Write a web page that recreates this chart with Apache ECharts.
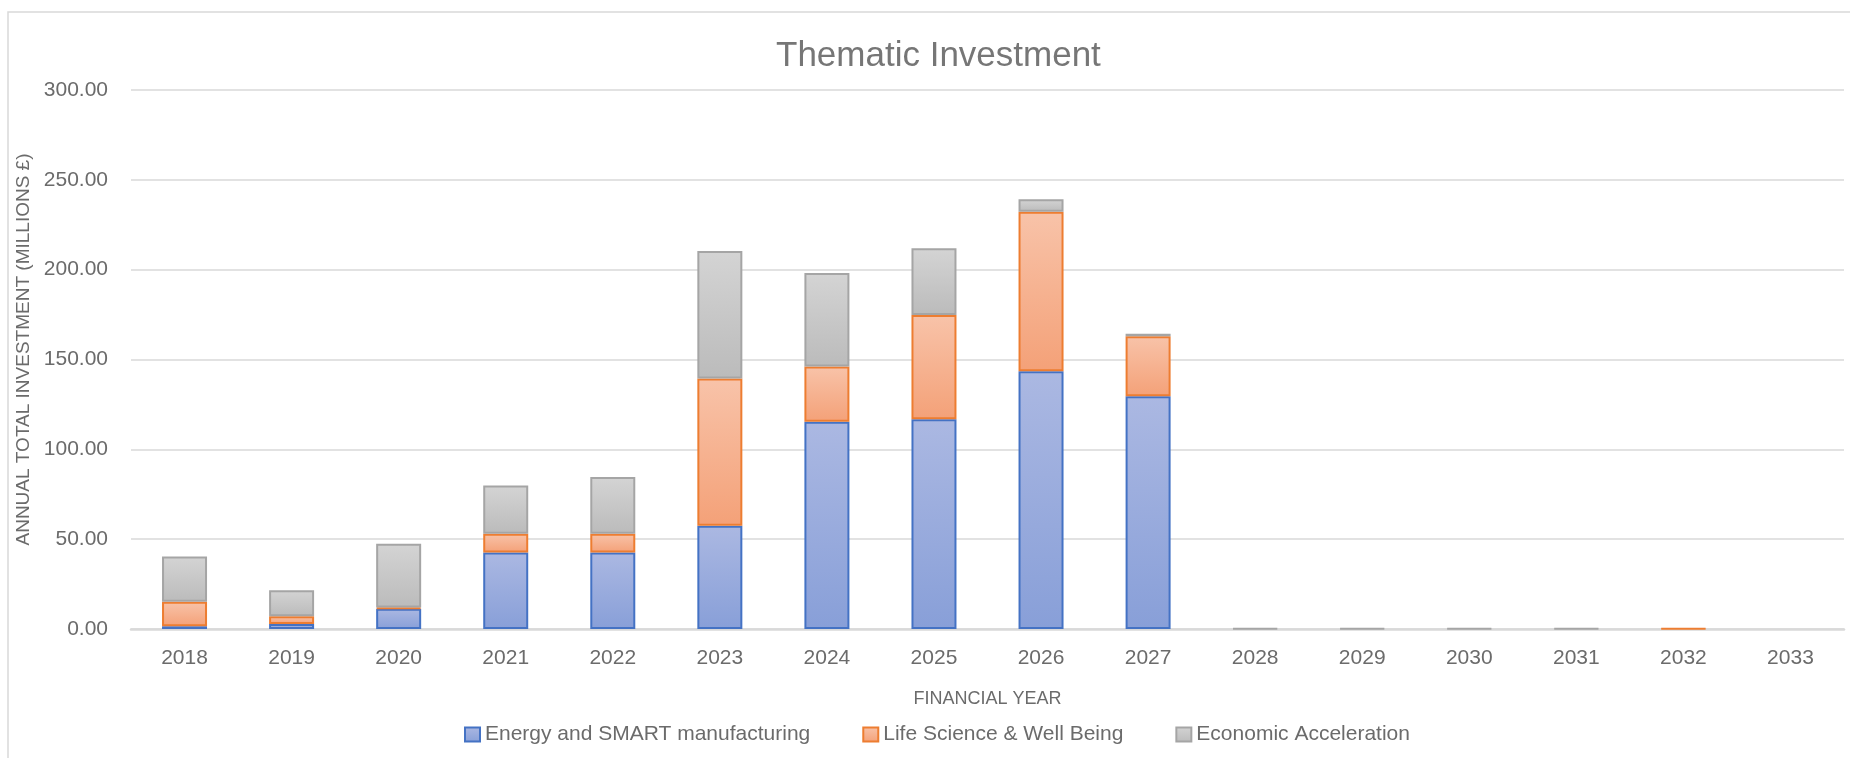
<!DOCTYPE html>
<html>
<head>
<meta charset="utf-8">
<title>Thematic Investment</title>
<script src="https://cdn.jsdelivr.net/npm/echarts@6/dist/echarts.min.js"></script>
<style>
    html, body { margin: 0; padding: 0; background: #fff; }
    #chart { width: 1850px; height: 758px; }
</style>
</head>
<body>
<div id="chart"></div>
<script>
// financial years on the x axis
const years = ['2018', '2019', '2020', '2021', '2022', '2023', '2024', '2025',
    '2026', '2027', '2028', '2029', '2030', '2031', '2032', '2033'];

// annual investment per theme, millions £
const energy = [1.5, 2.8, 11.3, 42.6, 42.6, 57.4, 115.4, 116.7, 143.5, 129.6, 0, 0, 0, 0, 0, 0];
const lifeScience = [13.6, 4.3, 0.6, 10.4, 10.4, 82.0, 30.7, 58.0, 88.7, 33.4, 0, 0, 0, 0, 0.3, 0];
const economic = [25.2, 14.5, 35.5, 26.9, 31.6, 71.0, 52.0, 37.2, 7.0, 1.3, 0.4, 0.4, 0.4, 0.4, 0, 0];

const seriesNames = ['Energy and SMART manufacturing', 'Life Science & Well Being', 'Economic Acceleration'];
const yTicks = { min: 0, max: 300, interval: 50 };

const FONT = '"Liberation Sans", Arial, sans-serif';
const TEXT = '#6b6b6b';

function grad(top, bottom) {
    return new echarts.graphic.LinearGradient(0, 0, 0, 1, [
        { offset: 0, color: top },
        { offset: 1, color: bottom }
    ]);
}

function barSeries(name, values, top, bottom, border) {
    return {
        name: name,
        type: 'bar',
        stack: 'total',
        barWidth: 45,
        data: values.map(v => (v === 0 ? null : v)),
        itemStyle: {
            color: grad(top, bottom),
            borderColor: border,
            borderWidth: 2
        }
    };
}

const myChart = echarts.init(document.getElementById('chart'));
const option = {
    animation: false,
    textStyle: { fontFamily: FONT },
    title: {
        text: 'Thematic Investment',
        left: 776,
        top: 39,
        padding: 0,
        textStyle: { fontFamily: FONT, fontSize: 35, fontWeight: 'normal', color: '#767676' }
    },
    graphic: [{
        type: 'rect',
        shape: { x: 8, y: 12, width: 1900, height: 800 },
        style: { fill: 'none', stroke: '#d9d9d9', lineWidth: 1.5 },
        silent: true
    }],
    legend: {
        data: seriesNames,
        left: 464,
        top: 724,
        padding: 0,
        icon: 'rect',
        itemGap: 52,
        itemWidth: 15,
        itemHeight: 14,
        textStyle: { fontFamily: FONT, fontSize: 21, color: TEXT }
    },
    grid: {
        left: 131,
        right: 6,
        top: 90,
        bottom: 129,
        containLabel: false
    },
    xAxis: {
        type: 'category',
        data: years,
        name: 'FINANCIAL YEAR',
        nameLocation: 'middle',
        nameGap: 61,
        nameTextStyle: { fontFamily: FONT, fontSize: 18, color: TEXT },
        axisLine: { lineStyle: { color: '#d9d9d9', width: 2.5 } },
        axisTick: { show: false },
        axisLabel: { fontFamily: FONT, fontSize: 21, color: TEXT, margin: 19 }
    },
    yAxis: {
        type: 'value',
        min: yTicks.min,
        max: yTicks.max,
        interval: yTicks.interval,
        name: 'ANNUAL TOTAL INVESTMENT (MILLIONS £)',
        nameLocation: 'middle',
        nameGap: 92,
        nameTextStyle: { fontFamily: FONT, fontSize: 19, color: TEXT, padding: [0, 0, 0, 20] },
        axisLine: { show: false },
        axisTick: { show: false },
        splitLine: { lineStyle: { color: '#d9d9d9', width: 1.5 } },
        axisLabel: {
            fontFamily: FONT,
            fontSize: 21,
            color: TEXT,
            margin: 23,
            formatter: v => v.toFixed(2)
        }
    },
    series: [
        barSeries(seriesNames[0], energy, '#abb8e2', '#889fd8', '#4472c4'),
        barSeries(seriesNames[1], lifeScience, '#f8c3a9', '#f4a178', '#ed7d31'),
        barSeries(seriesNames[2], economic, '#d4d4d4', '#bbbbbb', '#a5a5a5')
    ]
};
myChart.setOption(option, true);
window.addEventListener('resize', function () {
    myChart.resize();
});
</script>
</body>
</html>
